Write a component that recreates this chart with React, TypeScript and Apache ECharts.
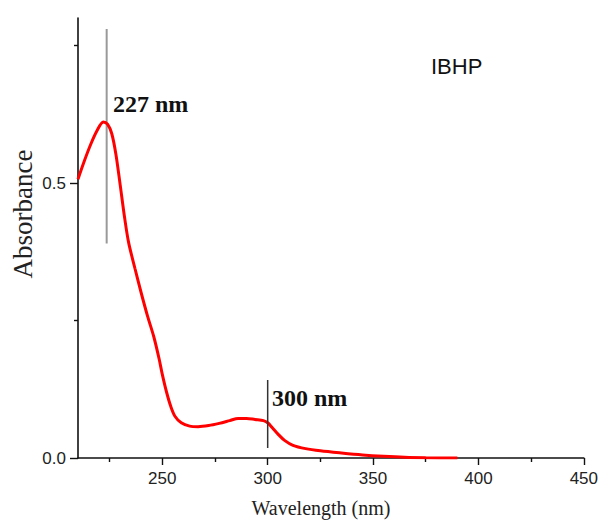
import React, { useEffect, useRef } from "react";
import * as echarts from "echarts";

const wavelengths = [210, 213, 216, 219, 222, 224, 226, 228, 230, 232, 234, 237, 240, 243, 246, 248.5, 250, 252, 254, 256, 259, 263, 267, 272, 277, 282, 286, 290, 294, 298, 300, 302, 305, 308, 312, 318, 325, 335, 345, 355, 365, 375, 390];
const absorbance = [0.507, 0.54, 0.57, 0.595, 0.611, 0.607, 0.59, 0.552, 0.497, 0.44, 0.392, 0.345, 0.3, 0.258, 0.22, 0.18, 0.152, 0.12, 0.094, 0.076, 0.064, 0.058, 0.057, 0.059, 0.063, 0.068, 0.072, 0.072, 0.07, 0.068, 0.064, 0.056, 0.043, 0.032, 0.023, 0.017, 0.013, 0.009, 0.0055, 0.003, 0.0012, 0.0004, 0];

const xMajorTicks = [250, 300, 350, 400, 450];
const xMinorTicks = [225, 275, 325, 375, 425];
const yMajorTicks = [0, 0.5];
const yMinorTicks = [0.25, 0.75];

const peak1Line = [[223.6, 0.39], [223.6, 0.78]];
const peak2Line = [[300, 0.018], [300, 0.142]];
const peak1Label = "227 nm";
const peak2Label = "300 nm";
const sampleLabel = "IBHP";
const xTitle = "Wavelength (nm)";
const yTitle = "Absorbance";

export default function App() {
  const ref = useRef<HTMLDivElement>(null);
  useEffect(() => {
    document.body.style.margin = "0";
    const chart = echarts.init(ref.current!, null, { renderer: "svg" });
    const sans = "Liberation Sans";
    const serif = "Liberation Serif";
    const axisCommon = {
      type: "value" as const,
      splitLine: { show: false },
    };
    chart.setOption({
      animation: false,
      backgroundColor: "#fff",
      grid: { left: 78, right: 15, top: 18, bottom: 62 },
      xAxis: [
        {
          ...axisCommon,
          min: 210,
          max: 450,
          axisLine: { show: true, lineStyle: { color: "#111", width: 1.6 } },
          axisTick: { show: true, customValues: xMajorTicks, length: 7, lineStyle: { color: "#111", width: 1.4 } },
          axisLabel: { customValues: xMajorTicks, margin: 12, fontFamily: sans, fontSize: 17, color: "#222" },
        },
        {
          ...axisCommon,
          min: 210,
          max: 450,
          position: "bottom",
          axisLine: { show: false },
          axisTick: { show: true, customValues: xMinorTicks, length: 4, lineStyle: { color: "#111", width: 1.4 } },
          axisLabel: { show: false },
        },
      ],
      yAxis: [
        {
          ...axisCommon,
          min: 0,
          max: 0.8,
          position: "left",
          axisLine: { show: true, lineStyle: { color: "#111", width: 1.6 } },
          axisTick: { show: true, customValues: yMajorTicks, length: 8, lineStyle: { color: "#111", width: 1.4 } },
          axisLabel: {
            customValues: yMajorTicks,
            margin: 12,
            fontFamily: sans,
            fontSize: 17,
            color: "#222",
            formatter: (v: number) => v.toFixed(1),
          },
        },
        {
          ...axisCommon,
          min: 0,
          max: 0.8,
          position: "left",
          axisLine: { show: false },
          axisTick: { show: true, customValues: yMinorTicks, length: 4, lineStyle: { color: "#111", width: 1.4 } },
          axisLabel: { show: false },
        },
      ],
      series: [
        {
          type: "line",
          data: wavelengths.map((w, i) => [w, absorbance[i]]),
          showSymbol: false,
          smooth: 0.3,
          lineStyle: { color: "#ff0000", width: 3 },
          z: 3,
        },
        {
          type: "line",
          data: peak1Line,
          showSymbol: false,
          lineStyle: { color: "#999", width: 2 },
          z: 2,
        },
        {
          type: "line",
          data: peak2Line,
          showSymbol: false,
          lineStyle: { color: "#333", width: 1.5 },
          z: 4,
        },
      ],
      graphic: [
        {
          type: "text",
          x: 113,
          y: 104,
          style: { text: peak1Label, font: `bold 24px "${serif}"`, fill: "#111", verticalAlign: "middle" },
        },
        {
          type: "text",
          x: 272,
          y: 398,
          style: { text: peak2Label, font: `bold 24px "${serif}"`, fill: "#111", verticalAlign: "middle" },
        },
        {
          type: "text",
          x: 431,
          y: 66,
          style: { text: sampleLabel, font: `22px "${sans}"`, fill: "#111", verticalAlign: "middle" },
        },
        {
          type: "text",
          x: 23,
          y: 214,
          rotation: Math.PI / 2,
          style: { text: yTitle, font: `27px "${serif}"`, fill: "#222", align: "center", verticalAlign: "middle" },
        },
        {
          type: "text",
          x: 321,
          y: 508,
          style: { text: xTitle, font: `20px "${serif}"`, fill: "#222", align: "center", verticalAlign: "middle" },
        },
      ],
    });
    return () => chart.dispose();
  }, []);
  return <div ref={ref} style={{ width: 601, height: 520 }} />;
}
